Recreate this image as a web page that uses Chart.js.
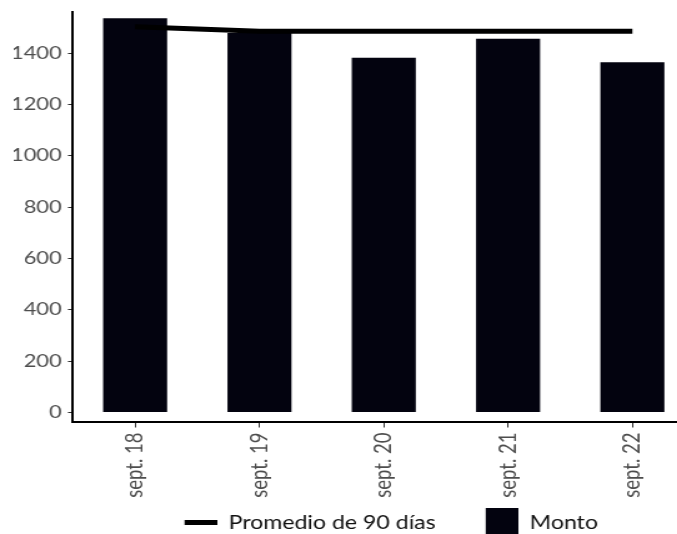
<!DOCTYPE html>
<html>
<head>
<meta charset="utf-8">
<script src="https://cdn.jsdelivr.net/npm/chart.js@4.4.1/dist/chart.umd.min.js"></script>
<style>
  html, body { margin: 0; padding: 0; background: #fff; overflow: hidden; }
</style>
</head>
<body>
<!-- the reference is stretched horizontally (~1.25x), so the canvas is drawn narrow and widened by css -->
<canvas id="chart" width="626" height="534" style="width:782px;height:534px"></canvas>
<script>
const fechas = ["sept. 18", "sept. 19", "sept. 20", "sept. 21", "sept. 22"];
const monto = [1536, 1478, 1382, 1456, 1364];
const promedio90 = [1503, 1485, 1485, 1485, 1485];
const yTicks = [0, 200, 400, 600, 800, 1000, 1200, 1400];

const BAR = "#03030f";
const TXT = "#4d4d4d";
const FONT = "Lato, 'Open Sans', sans-serif";

// legend swatches: blank space on the left widens the gap between items
function swatch(kind){
  const c = document.createElement("canvas");
  c.width = 54; c.height = kind === "line" ? 5 : 30;
  const g = c.getContext("2d");
  g.fillStyle = kind === "line" ? "#000" : BAR;
  g.fillRect(28, 0, 26, c.height);
  return c;
}

// move legend back so the visible part sits where it does in the reference
const legendShift = {
  id: "legendShift",
  afterLayout(chart){ chart.legend.left -= 8; chart.legend.right -= 8; }
};

new Chart(document.getElementById("chart"), {
  data: {
    labels: fechas,
    datasets: [
      {
        type: "line",
        label: "Promedio de 90 días",
        data: promedio90,
        borderColor: "#000",
        borderWidth: 5,
        pointRadius: 0,
        tension: 0,
        order: 0
      },
      {
        type: "bar",
        label: "Monto",
        data: monto,
        backgroundColor: BAR,
        barPercentage: 0.515,
        categoryPercentage: 1,
        order: 1
      }
    ]
  },
  plugins: [legendShift],
  options: {
    responsive: false,
    devicePixelRatio: 1,
    animation: false,
    layout: { padding: { left: 11, right: 70, top: 12, bottom: -8 } },
    plugins: {
      tooltip: { enabled: false },
      legend: {
        position: "bottom",
        fullSize: false,
        labels: {
          usePointStyle: true,
          pointStyleWidth: 54,
          padding: 12,
          color: "#111",
          font: { family: FONT, size: 18.5 },
          generateLabels: chart => chart.data.datasets.map((ds, i) => ({
            text: ds.label,
            pointStyle: swatch(ds.type),
            fillStyle: ds.type === "line" ? "#000" : BAR,
            strokeStyle: "transparent",
            lineWidth: 0,
            fontColor: "#111",
            hidden: false,
            datasetIndex: i
          }))
        }
      }
    },
    scales: {
      x: {
        offset: true,
        afterFit: s => { s.height = 80; },
        grid: { display: true, offset: false, drawOnChartArea: false, drawTicks: true, tickLength: 6, color: "#333" },
        border: { display: true, color: "#000", width: 2 },
        ticks: {
          color: TXT, minRotation: 90, maxRotation: 90, padding: 5,
          font: { family: FONT, size: 18.5 }
        }
      },
      y: {
        min: -35,
        max: 1560,
        afterBuildTicks: s => { s.ticks = yTicks.map(v => ({ value: v })); },
        afterFit: s => { s.width = 47.4; s.paddingTop = 0; s.paddingBottom = 0; },
        grid: { display: true, drawOnChartArea: false, drawTicks: true, tickLength: 4, color: "#333" },
        border: { display: true, color: "#000", width: 2 },
        ticks: {
          color: TXT, padding: 5,
          font: { family: FONT, size: 17.5 },
          callback: v => String(v)
        }
      }
    }
  }
});
</script>
</body>
</html>
